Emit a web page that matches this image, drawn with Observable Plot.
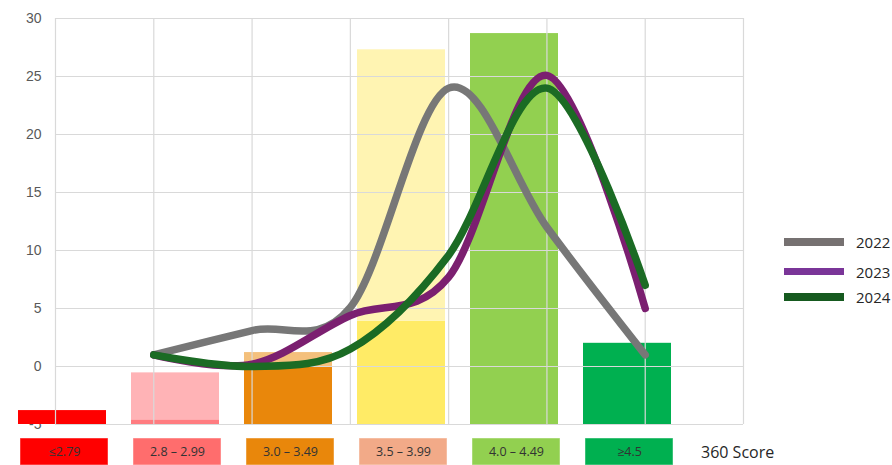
<!DOCTYPE html>
<html><head><meta charset="utf-8">
<script src="https://cdn.jsdelivr.net/npm/d3@7"></script>
<script src="https://cdn.jsdelivr.net/npm/@observablehq/plot@0.6"></script>
<style>
body{margin:0;background:#fff;}
#chart{position:relative;width:892px;height:465px;overflow:hidden;font-family:"Open Sans",sans-serif;}
#chart svg{position:absolute;left:0;top:0;background:transparent;}
.leg{position:absolute;left:784px;height:20px;display:flex;align-items:center;white-space:nowrap;}
.leg .sw{width:60px;height:7.5px;margin-right:12px;}
.leg .lb{font-size:15px;color:#262626;}
#xlabel{position:absolute;left:701px;top:441px;font-size:16px;color:#262626;}
</style></head><body><div id="chart"></div>
<script>
// ---- data ----
const categories = ["≤2.79", "2.8 – 2.99", "3.0 – 3.49", "3.5 – 3.99", "4.0 – 4.49", "≥4.5"];
const barLower = [-3.8, -4.6, 0, 3.9, 28.7, 2.0];
const barUpper = [null, -0.55, 1.2, 27.3, null, null];
const barLowerColors = ["#ff0000", "#ff7c80", "#e9870b", "#ffeb66", "#92d050", "#00b050"];
const barUpperColors = [null, "#ffb3b6", "#f4c07c", "#fff4b2", null, null];
const boxColors = ["#ff0000", "#ff6d6d", "#e9870b", "#f2aa88", "#92d050", "#00b050"];
const years = ["2022", "2023", "2024"];
const lineColors = ["#777777", "#7b1f70", "#1b6b24"];
const legendColors = ["#767171", "#7a3598", "#165a1f"];
const v2022 = [1, 3.1, 5.1, 24, 12, 1];
const v2023 = [1, 0.2, 4.4, 7.7, 25.1, 5];
const v2024 = [1, 0, 1.5, 9.6, 24, 7];
const yTicks = [-5, 0, 5, 10, 15, 20, 25, 30];
const axisLabel = "360 Score";

const yMin = -5, yMax = 30;
const chart = document.getElementById("chart");

// ---- bars layer ----
const barRows = categories.map((c, i) => ({c, lo: barLower[i], hi: barUpper[i], cLo: barLowerColors[i], cHi: barUpperColors[i]}));
const barPlot = Plot.plot({
  width: 892, height: 440,
  marginLeft: 17, marginRight: 220, marginTop: 18, marginBottom: 16,
  style: {background: "transparent"},
  x: {type: "band", domain: categories, paddingInner: 0.224, paddingOuter: 0, axis: null},
  y: {domain: [yMin, yMax], axis: null},
  color: {type: "identity"},
  marks: [
    Plot.text(yTicks, {y: d => d, text: d => String(d), frameAnchor: "left", dx: 24, textAnchor: "end",
      fontSize: 14, fill: "#595959", fontFamily: "Liberation Sans, Arial, sans-serif"}),
    Plot.barY(barRows, {x: "c", y1: yMin, y2: "lo", fill: "cLo"}),
    Plot.barY(barRows.filter(d => d.hi != null), {x: "c", y1: "lo", y2: "hi", fill: "cHi"})
  ]
});
chart.appendChild(barPlot);

// ---- grid + lines layer ----
const series = [v2022, v2023, v2024];
const lineRows = years.flatMap((yr, k) => series[k].map((v, i) => ({year: yr, x: i + 1, v})));
const linePlot = Plot.plot({
  width: 892, height: 440,
  marginLeft: 55, marginRight: 149, marginTop: 18, marginBottom: 16,
  style: {background: "transparent"},
  x: {domain: [0, categories.length + 1], axis: null},
  y: {domain: [yMin, yMax], axis: null},
  color: {domain: years, range: lineColors},
  marks: [
    Plot.ruleX(d3.range(0, categories.length + 2), {stroke: "#d9d9d9", strokeWidth: 1.2}),
    Plot.ruleY(yTicks, {stroke: "#d9d9d9", strokeWidth: 1.2}),
    Plot.line(lineRows, {x: "x", y: "v", z: "year", stroke: "year", strokeWidth: 7.5,
      curve: "cardinal", strokeLinecap: "round", strokeLinejoin: "round"})
  ]
});
chart.appendChild(linePlot);

// ---- category boxes ----
const boxPlot = Plot.plot({
  width: 892, height: 27,
  marginLeft: 17, marginRight: 217, marginTop: 0, marginBottom: 0,
  style: {background: "transparent"},
  x: {type: "band", domain: categories, paddingInner: 0.224, paddingOuter: 0, axis: null},
  color: {type: "identity"},
  marks: [
    Plot.cell(categories, {x: d => d, fill: (d, i) => boxColors[i], stroke: "#ffffff", strokeOpacity: 0.45}),
    Plot.text(categories, {x: d => d, text: d => d, fontSize: 12.5, fill: "#333333", fontFamily: "Open Sans, sans-serif"})
  ]
});
boxPlot.style.top = "438px";
chart.appendChild(boxPlot);

// ---- axis label ----
const xl = document.createElement("div");
xl.id = "xlabel"; xl.textContent = axisLabel;
chart.appendChild(xl);

// ---- legend ----
const legTops = [232, 261.5, 287];
years.forEach((yr, i) => {
  const it = document.createElement("div");
  it.className = "leg";
  it.style.top = legTops[i] + "px";
  it.innerHTML = `<div class="sw" style="background:${legendColors[i]}"></div><span class="lb">${yr}</span>`;
  chart.appendChild(it);
});
</script>
</body></html>
